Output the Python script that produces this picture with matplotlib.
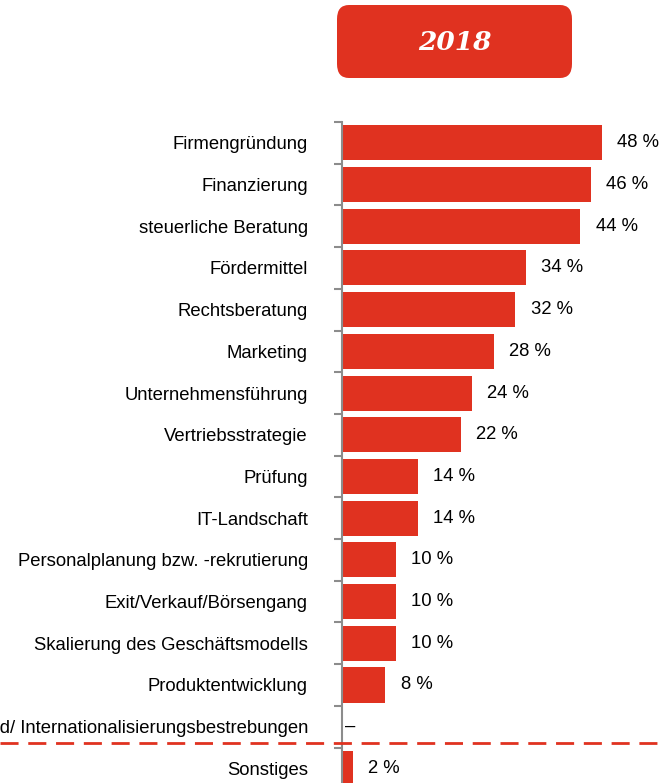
#!/usr/bin/env python

import matplotlib.pyplot as plt
import matplotlib.transforms as mtransforms
from matplotlib.lines import Line2D
from matplotlib.patches import FancyBboxPatch

# Categories (top to bottom) and shares in percent
categories = [
    'Firmengründung', 'Finanzierung', 'steuerliche Beratung', 'Fördermittel',
    'Rechtsberatung', 'Marketing', 'Unternehmensführung',
    'Vertriebsstrategie', 'Prüfung', 'IT-Landschaft',
    'Personalplanung bzw. -rekrutierung', 'Exit/Verkauf/Börsengang',
    'Skalierung des Geschäftsmodells', 'Produktentwicklung',
    'Auslandsexpansion und/ Internationalisierungsbestrebungen', 'Sonstiges'
]
values = [48, 46, 44, 34, 32, 28, 24, 22, 14, 14, 10, 10, 10, 8, None, 2]
year = '2018'

red = '#e03220'
grey = '#8c8c8c'
fs = 13.3

plt.rcParams['font.family'] = ['Liberation Sans', 'DejaVu Sans']

fig = plt.figure(figsize=(6.62, 7.83), dpi=100)
W, H = 662, 783
ax = fig.add_axes([342 / W, 0, 1 - 342 / W, 1 - 122 / H])

ypos = list(range(len(categories)))
widths = [v if v is not None else 0 for v in values]
ax.barh(ypos, widths, height=0.84, color=red, edgecolor='none')

for y, v in zip(ypos, values):
    if v is None:
        ax.text(0.5, y, '–', va='center', ha='left', fontsize=fs)
    else:
        ax.text(v + 2.8, y, '{} %'.format(v), va='center', ha='left',
                fontsize=fs)

ax.set_xlim(0, (W - 342) / 5.42)
ax.set_ylim(15.35, -0.5)

ax.set_yticks([y - 0.5 for y in ypos])
ax.set_yticklabels([])
ax.set_yticks(ypos, minor=True)
ax.set_yticklabels(categories, minor=True, fontsize=fs)
ax.tick_params(axis='y', which='major', length=6, width=1.5, color=grey,
               direction='out')
ax.tick_params(axis='y', which='minor', length=0, pad=24.5)
ax.set_xticks([])

for side in ['top', 'right', 'bottom']:
    ax.spines[side].set_visible(False)
ax.spines['left'].set_color(grey)
ax.spines['left'].set_linewidth(1.5)

# dashed separator across the whole figure
trans = mtransforms.blended_transform_factory(fig.transFigure, ax.transData)
fig.add_artist(Line2D([0, 1], [14.4, 14.4], transform=trans, color=red,
                      lw=2, linestyle=(0, (6.5, 3.5))))

# year box
box = FancyBboxPatch((337 / W, 1 - 78 / H), (572 - 337) / W, (78 - 5) / H,
                     boxstyle='round,pad=0,rounding_size=0.018',
                     transform=fig.transFigure, facecolor=red,
                     edgecolor='none')
fig.add_artist(box)
fig.text((337 + 572) / 2 / W, 1 - 42 / H, year, ha='center', va='center',
         color='white', fontsize=19, fontweight='bold', fontstyle='italic',
         family='DejaVu Serif')

plt.savefig('out.png', dpi=100)
